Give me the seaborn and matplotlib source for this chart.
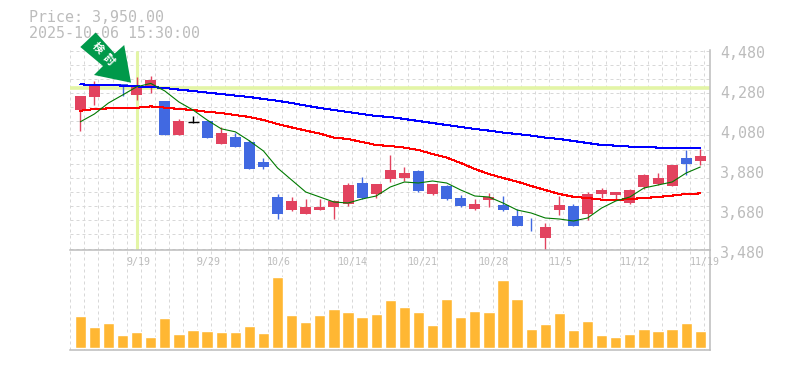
import numpy as np
import pandas as pd
import seaborn as sns
import matplotlib.pyplot as plt
from matplotlib.patches import Polygon

# candle values, one per session
opens = [4180, 4245, 4305, 4312, 4255, 4290, 4225, 4055, 4118, 4125, 4010, 4045, 4020, 3920, 3745,
         3680, 3660, 3680, 3695, 3710, 3815, 3760, 3835, 3840, 3875, 3760, 3800, 3740, 3685, 3730,
         3705, 3650, 3581, 3540, 3680, 3700, 3660, 3760, 3755, 3715, 3795, 3810, 3800, 3940, 3925]
closes = [4250, 4307, 4306, 4303, 4296, 4330, 4055, 4125, 4118, 4040, 4065, 3995, 3885, 3895, 3660,
          3725, 3695, 3695, 3725, 3805, 3740, 3810, 3880, 3865, 3775, 3810, 3735, 3700, 3710, 3745,
          3680, 3600, 3579, 3595, 3705, 3600, 3760, 3780, 3770, 3780, 3855, 3840, 3905, 3910, 3950]
highs = [4250, 4325, 4306, 4312, 4345, 4350, 4225, 4133, 4148, 4125, 4095, 4065, 4030, 3940, 3760,
         3745, 3735, 3735, 3730, 3815, 3845, 3810, 3955, 3895, 3880, 3810, 3805, 3755, 3735, 3765,
         3750, 3685, 3640, 3615, 3750, 3710, 3770, 3790, 3770, 3785, 3860, 3865, 3905, 3980, 3985]
lows = [4075, 4205, 4305, 4251, 4230, 4265, 4055, 4055, 4113, 4040, 4010, 3995, 3885, 3885, 3635,
        3675, 3660, 3680, 3635, 3700, 3735, 3740, 3820, 3825, 3770, 3755, 3730, 3695, 3680, 3695,
        3675, 3600, 3575, 3480, 3655, 3600, 3630, 3740, 3730, 3710, 3785, 3805, 3800, 3855, 3905]
volume = [32, 21, 25, 13, 16, 11, 30, 14, 18, 17, 16, 16, 22, 15, 71,
          33, 26, 33, 39, 36, 31, 34, 48, 41, 36, 23, 49, 31, 37, 36,
          68, 49, 19, 24, 35, 18, 27, 13, 11, 14, 19, 17, 19, 25, 17]

ma_short = [4121, 4160, 4215, 4255, 4296, 4313, 4275, 4220, 4180, 4130, 4086, 4071, 4026, 3975, 3890,
            3830, 3770, 3745, 3720, 3715, 3735, 3750, 3795, 3820, 3815, 3825, 3815, 3780, 3750, 3745,
            3715, 3680, 3665, 3640, 3635, 3625, 3640, 3690, 3725, 3745, 3790, 3805, 3820, 3865, 3895]
ma_mid = [4176, 4185, 4188, 4191, 4191, 4198, 4192, 4185, 4180, 4171, 4165, 4155, 4145, 4130, 4110,
          4093, 4077, 4062, 4042, 4035, 4020, 4005, 4000, 3992, 3980, 3960, 3942, 3915, 3885, 3860,
          3840, 3822, 3800, 3780, 3760, 3746, 3740, 3732, 3730, 3735, 3740, 3745, 3752, 3760, 3763]
ma_long = [4308, 4306, 4305, 4302, 4298, 4295, 4290, 4282, 4275, 4267, 4260, 4252, 4245, 4235, 4226,
           4215, 4202, 4190, 4180, 4170, 4160, 4150, 4145, 4135, 4125, 4115, 4105, 4095, 4085, 4077,
           4067, 4060, 4052, 4042, 4035, 4025, 4015, 4005, 4002, 3997, 3995, 3992, 3990, 3990, 3988]

date_pos = [4, 9, 14, 19, 24, 29, 34, 39, 44]
date_labels = ["9/19", "9/29", "10/6", "10/14", "10/21", "10/28", "11/5", "11/12", "11/19"]
price_ticks = [4480, 4280, 4080, 3880, 3680, 3480]
marker_price = 4292
marker_pos = 4

RED = "#e2435f"
BLUE = "#4169e1"
GRAY = "#bcbcbc"
GRID = "#d8d8d8"
MARK = "#e3f5a6"
MONO = "DejaVu Sans Mono"

sns.set_theme(style="white")
plt.rcParams["font.family"] = [MONO, "Noto Sans CJK JP"]

W, H = 785, 370
fig = plt.figure(figsize=(W / 100, H / 100), dpi=100)
ax = fig.add_axes([70 / W, 1 - 250 / H, 640 / W, 200 / H])
ax_vol = fig.add_axes([70 / W, 1 - 350 / H, 640 / W, 100 / H])
# price axes on top so the date labels stay visible over the volume panel
ax.set_zorder(2)
ax.patch.set_visible(False)

idx = np.arange(len(opens))
df = pd.DataFrame({"idx": idx, "open": opens, "close": closes, "high": highs, "low": lows,
                   "volume": volume, "short": ma_short, "mid": ma_mid, "long": ma_long})

xlim = (-0.731, 44.69)
grid_x = np.arange(46) - 0.71
grid_y = 4476.5 - 70.65 * np.arange(15)

for a in (ax, ax_vol):
    a.set_axisbelow(True)
    a.set_xticks(grid_x)
    a.tick_params(length=0, labelbottom=False, labelleft=False)
    a.grid(axis="x", color=GRID, lw=0.72, ls=(0, (3, 3)))
    for s in ("top", "left"):
        a.spines[s].set_visible(False)
    for s in ("bottom", "right"):
        a.spines[s].set_color(GRAY)
        a.spines[s].set_linewidth(1.1)

ax.set_yticks(grid_y)
ax.grid(axis="y", color=GRID, lw=0.72, ls=(0, (3, 3)))

# marker lines under the candles
ax.axhline(marker_price, color=MARK, lw=2.6, zorder=1)
ax.axvline(marker_pos, ymin=0, ymax=0.99, color=MARK, lw=2.2, zorder=1)

# candles
for row in df.itertuples():
    if row.open == 4118:
        col = "black"
    elif row.close >= row.open:
        col = RED
    else:
        col = BLUE
    ax.vlines(row.idx, row.low, row.high, color=col, lw=1.0, zorder=2)
    if col == "black":
        ax.hlines(row.close, row.idx - 0.39, row.idx + 0.39, color=col, lw=1.0, zorder=2)
    else:
        ax.bar(row.idx, row.close - row.open, bottom=row.open, width=0.78, color=col, lw=0, zorder=2)

# moving averages
sns.lineplot(data=df, x="idx", y="long", color="#0000ff", lw=0.75, errorbar=None, ax=ax, zorder=3, antialiased=False)
sns.lineplot(data=df, x="idx", y="mid", color="#ff0000", lw=0.75, errorbar=None, ax=ax, zorder=3, antialiased=False)
sns.lineplot(data=df, x="idx", y="short", color="#007a00", lw=0.8, errorbar=None, ax=ax, zorder=3)

sns.barplot(data=df, x="idx", y="volume", native_scale=True, color="#ffb733", saturation=1,
            width=0.8, ax=ax_vol, zorder=2)

ax.set_xlim(xlim)
ax.set_ylim(3480, 4480)
ax_vol.set_xlim(xlim)
ax_vol.set_ylim(-2, 98)
for a in (ax, ax_vol):
    a.set_xlabel("")
    a.set_ylabel("")

# axis labels
for pos, lab in zip(date_pos, date_labels):
    ax.annotate(lab, (pos, 3480), xytext=(-10.5, -12), textcoords="offset pixels", color=GRAY,
                fontsize=7.1, family=MONO, ha="left", va="center", annotation_clip=False, zorder=5)
for p in price_ticks:
    ax.annotate(f"{p:,}", (xlim[1], p), xytext=(10, -3), textcoords="offset pixels", color=GRAY,
                fontsize=10.8, family=MONO, ha="left", va="center", annotation_clip=False)

fig.text(29 / W, 1 - 18 / H, "Price: 3,950.00", color=GRAY, fontsize=10.8, family=MONO, va="center")
fig.text(29 / W, 1 - 33 / H, "2025-10-06 15:30:00", color=GRAY, fontsize=10.8, family=MONO, va="center")

# green arrow callout
arrow_px = [(95.7, 32.5), (80.3, 47), (103, 66), (94, 75), (131, 82.7), (124.2, 45), (114.7, 53.5)]
fig.add_artist(Polygon([(x / W, 1 - y / H) for x, y in arrow_px], closed=True, facecolor="#00994a",
                       edgecolor="none", transform=fig.transFigure, zorder=10))
for ch, (gx, gy) in zip("検討", [(97.7, 47.3), (108.3, 59.3)]):
    fig.text(gx / W, 1 - gy / H, ch, color="white", fontsize=8, family="Noto Sans CJK JP",
             fontweight="bold", rotation=-45, ha="center", va="center", rotation_mode="anchor", zorder=11)

plt.savefig("out.png", dpi=100)
